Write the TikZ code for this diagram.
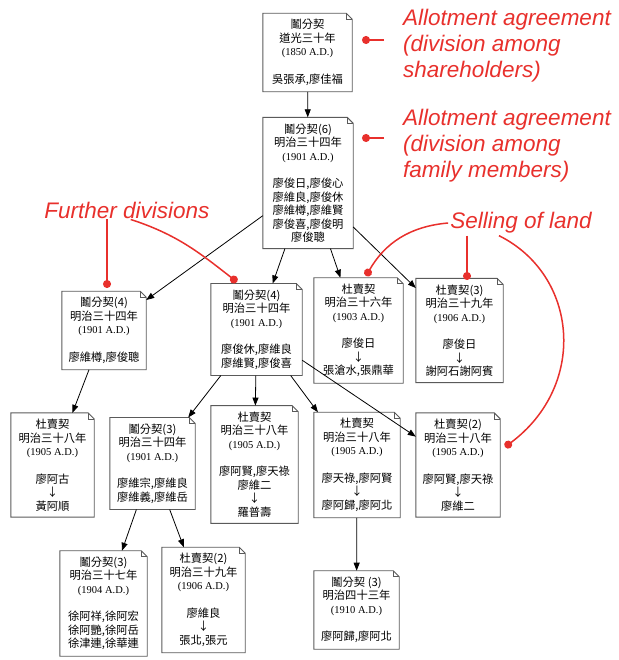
\documentclass[tikz,border=0pt]{standalone}
\usepackage{fontspec}
\setmainfont{Liberation Serif}
\setsansfont{Liberation Sans}
\newfontfamily\cjk{Noto Sans CJK TC}
\usepackage{xcolor}
\usepackage{tikz}
\usetikzlibrary{positioning, arrows.meta, calc}
\definecolor{annred}{RGB}{232,48,44}
\definecolor{docgray}{RGB}{90,90,90}
\newcommand{\yr}[1]{{\rmfamily\fontsize{10.5}{13.5}\selectfont #1}}
\tikzset{
  doc/.style={rectangle, align=center, inner xsep=5pt, inner ysep=6pt,
              minimum width=86pt, font=\cjk\fontsize{11.3}{13.5}\selectfont},
  docline/.style={draw=docgray, line width=0.9pt},
  arr/.style={-{Triangle[length=8pt, width=6pt]}, line width=0.8pt},
  ann/.style={text=annred, align=left, inner sep=0pt,
              font=\sffamily\itshape\fontsize{22.5}{26}\selectfont},
  annmark/.style={annred, line width=1.5pt, -{Circle[length=8pt]}},
}

\begin{document}
\begin{tikzpicture}[x=1pt, y=-1pt]
  \useasboundingbox (0,0) rectangle (618,660);
  % documents
  \node[doc, minimum width=89pt] (div0) at (307.5,52.5) {鬮分契\\道光三十年\\\yr{(1850 A.D.)}\\[14pt]吳張承,廖佳福};
  \node[doc, minimum width=90pt] (div1) at (308,183) {鬮分契(6)\\明治三十四年\\\yr{(1901 A.D.)}\\[14pt]廖俊日,廖俊心\\廖維良,廖俊休\\廖維樽,廖維賢\\廖俊喜,廖俊明\\廖俊聰};
  \node[doc, minimum width=84pt] (div2) at (104,330.5) {鬮分契(4)\\明治三十四年\\\yr{(1901 A.D.)}\\[14pt]廖維樽,廖俊聰};
  \node[doc, minimum width=91pt] (div3) at (256.5,329.5) {鬮分契(4)\\明治三十四年\\\yr{(1901 A.D.)}\\[14pt]廖俊休,廖維良\\廖維賢,廖俊喜};
  \node[doc, minimum width=89pt] (sale1) at (358.5,330.5) {杜賣契\\明治三十六年\\\yr{(1903 A.D.)}\\[14pt]廖俊日\\↓\\張滄水,張鼎華};
  \node[doc, minimum width=87pt] (sale2) at (459.5,330.5) {杜賣契(3)\\明治三十九年\\\yr{(1906 A.D.)}\\[14pt]廖俊日\\↓\\謝阿石謝阿賓};
  \node[doc, minimum width=83pt] (sale3) at (52.5,465) {杜賣契\\明治三十八年\\\yr{(1905 A.D.)}\\[14pt]廖阿古\\↓\\黃阿順};
  \node[doc, minimum width=85pt] (div4) at (152.5,463.5) {鬮分契(3)\\明治三十四年\\\yr{(1901 A.D.)}\\[14pt]廖維宗,廖維良\\廖維義,廖維岳};
  \node[doc, minimum width=87pt] (sale4) at (254.5,464.5) {杜賣契\\明治三十八年\\\yr{(1905 A.D.)}\\[14pt]廖阿賢,廖天祿\\廖維二\\↓\\羅普壽};
  \node[doc, minimum width=86pt] (sale5) at (357,465) {杜賣契\\明治三十八年\\\yr{(1905 A.D.)}\\[14pt]廖天祿,廖阿賢\\↓\\廖阿歸,廖阿北};
  \node[doc, minimum width=84pt] (sale6) at (458,465) {杜賣契(2)\\明治三十八年\\\yr{(1905 A.D.)}\\[14pt]廖阿賢,廖天祿\\↓\\廖維二};
  \node[doc, minimum width=87pt] (div5) at (103.5,603.5) {鬮分契(3)\\明治三十七年\\\yr{(1904 A.D.)}\\[14pt]徐阿祥,徐阿宏\\徐阿艷,徐阿岳\\徐津連,徐華連};
  \node[doc, minimum width=83pt] (sale7) at (203.5,600) {杜賣契(2)\\明治三十九年\\\yr{(1906 A.D.)}\\[14pt]廖維良\\↓\\張北,張元};
  \node[doc, minimum width=85pt] (div6) at (356.5,610) {鬮分契 (3)\\明治四十三年\\\yr{(1910 A.D.)}\\[14pt]廖阿歸,廖阿北};
  % folded-corner outlines
  \foreach \n in {div0,div1,div2,div3,div4,div5,div6,sale1,sale2,sale3,sale4,sale5,sale6,sale7} {
    \draw[docline] (\n.south west) -- (\n.north west) -- ([xshift=-6pt]\n.north east)
      -- ([yshift=-6pt]\n.north east) -- (\n.south east) -- cycle;
    \draw[docline, line width=0.5pt] ([xshift=-6pt]\n.north east) |- ([yshift=-6pt]\n.north east);
  }
  % links
  \draw[arr] (div0) -- (div1);
  \draw[arr] (div1) -- (div2);
  \draw[arr] (div1) -- (div3);
  \draw[arr] (div1) -- (sale1);
  \draw[arr] (div1) -- (sale2);
  \draw[arr] (div2) -- (sale3);
  \draw[arr] (div3) -- (div4);
  \draw[arr] (div3) -- (sale4);
  \draw[arr] (div3) -- (sale5);
  \draw[arr] (div3) -- (sale6);
  \draw[arr] (div4) -- (div5);
  \draw[arr] (div4) -- (sale7);
  \draw[arr] (sale5) -- (div6);
  % annotations
  \node[ann, anchor=west] (lbA) at (403,46) {Allotment agreement\\(division among\\shareholders)};
  \node[ann, anchor=west] (lbB) at (403,146) {Allotment agreement\\(division among\\family members)};
  \node[ann] (lbC) at (127,210) {Further divisions};
  \node[ann] (lbD) at (521,223) {Selling of land};
  \coordinate (mA) at (362,40);
  \coordinate (mB) at (362,138);
  \coordinate (mC1) at (107,288);
  \coordinate (mC2) at (237,282);
  \coordinate (mD1) at (366,276);
  \coordinate (mD2) at (467,280);
  \coordinate (mD3) at (505,447);
  \draw[annmark] (384,40) -- (mA);
  \draw[annmark] (384,138) -- (mB);
  \draw[annmark] ([yshift=-1pt]lbC.south -| mC1) -- (mC1);
  \draw[annmark] ([xshift=-79pt,yshift=-1pt]lbC.south east) to[out=-18, in=142] (mC2);
  \draw[annmark] ([xshift=-2pt]lbD.west) to[out=185, in=60] (mD1);
  \draw[annmark] ([yshift=-2pt]lbD.south -| mD2) -- (mD2);
  \draw[annmark] ([xshift=-22pt,yshift=-2pt]lbD.south) .. controls (578,275) and (588,385) .. (mD3);
\end{tikzpicture}
\end{document}
